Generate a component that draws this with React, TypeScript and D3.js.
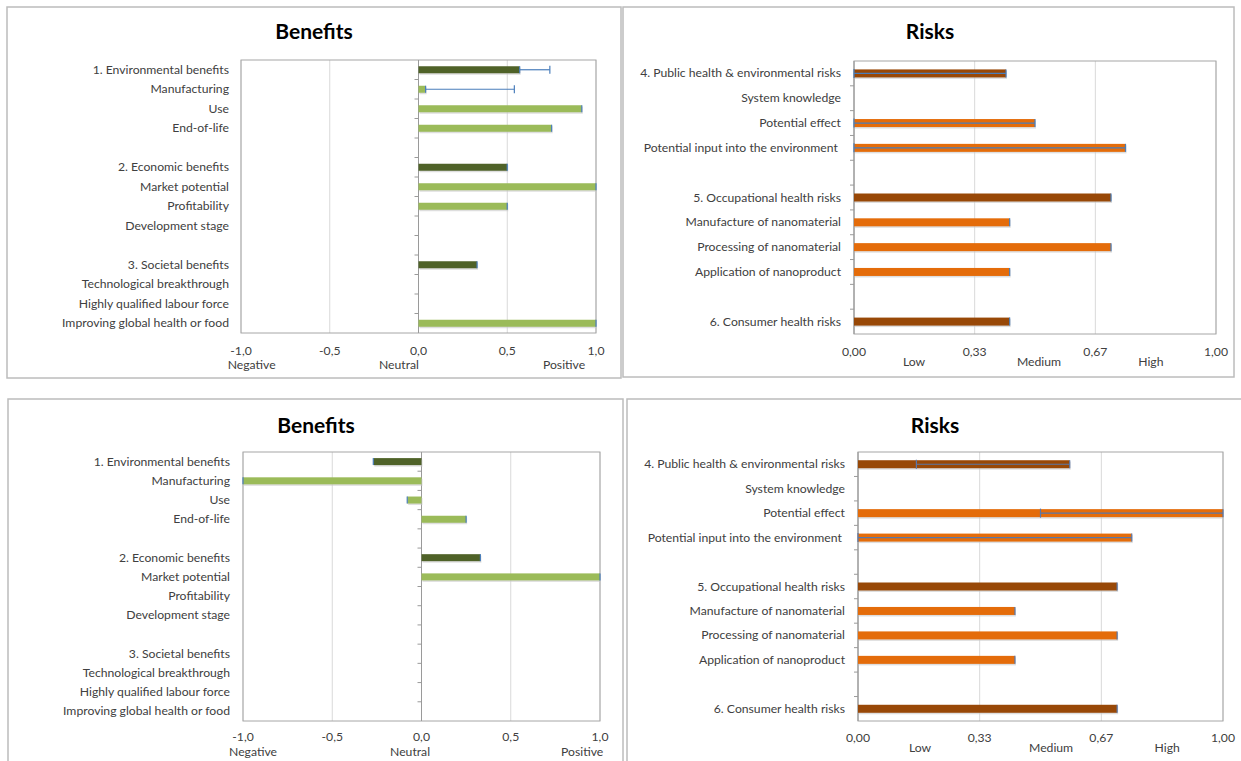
import React from "react";
import * as d3 from "d3";

const benefitCategories = [
  "1. Environmental benefits",
  "Manufacturing",
  "Use",
  "End-of-life",
  "",
  "2. Economic benefits",
  "Market potential",
  "Profitability",
  "Development stage",
  "",
  "3. Societal benefits",
  "Technological breakthrough",
  "Highly qualified labour force",
  "Improving global health or food",
];
const benefitHeaders = [0, 5, 10];

const benefitsTopValues = [0.57, 0.04, 0.92, 0.75, null, 0.5, 1.0, 0.5, null, null, 0.33, null, null, 1.0];
const benefitsTopErrHigh = [0.74, 0.54, 0.92, 0.75, null, 0.5, 1.0, 0.5, null, null, 0.33, null, null, 1.0];

const benefitsBottomValues = [-0.27, -1.0, -0.08, 0.25, null, 0.33, 1.0, null, null, null, 0, null, null, null];

const benefitTicks = [-1, -0.5, 0, 0.5, 1];
const benefitScaleLabels = ["Negative", "Neutral", "Positive"];

const riskCategories = [
  "4. Public health & environmental risks",
  "System knowledge",
  "Potential effect",
  "Potential input into the environment ",
  "",
  "5. Occupational health risks",
  "Manufacture of nanomaterial",
  "Processing of nanomaterial",
  "Application of nanoproduct",
  "",
  "6. Consumer health risks",
];
const riskHeaders = [0, 5, 10];

const risksTopValues = [0.42, null, 0.5, 0.75, null, 0.71, 0.43, 0.71, 0.43, null, 0.43];
const risksTopErrLow = [0, null, 0, 0, null, null, null, null, null, null, null];

const risksBottomValues = [0.58, null, 1.0, 0.75, null, 0.71, 0.43, 0.71, 0.43, null, 0.71];
const risksBottomErrLow = [0.16, null, 0.5, 0, null, null, null, null, null, null, null];

const riskTicks = [0, 1 / 3, 2 / 3, 1];
const riskScaleLabels = ["Low", "Medium", "High"];

const FONT = "Lato, 'Open Sans', sans-serif";
const FS = 12.2;

type PanelProps = {
  box: { x: number; y: number; w: number; h: number };
  plot: { x0: number; x1: number; y0: number; y1: number };
  title: string;
  titleX: number;
  titleY: number;
  categories: string[];
  headers: number[];
  values: (number | null)[];
  errLow?: (number | null)[];
  errHigh?: (number | null)[];
  domain: [number, number];
  ticks: number[];
  tickDigits: number;
  scaleLabels: string[];
  scaleLabelPos: number[];
  tickDy: number;
  scaleDy: number;
  labelX: number;
  barH: number;
  dark: string;
  light: string;
  errColor: string;
};

function Panel(p: PanelProps) {
  const x = d3.scaleLinear().domain(p.domain).range([p.plot.x0, p.plot.x1]);
  const y = d3
    .scaleBand<number>()
    .domain(p.categories.map((_, i) => i))
    .range([p.plot.y0, p.plot.y1]);
  const bw = y.bandwidth();
  const axisX = x(Math.max(p.domain[0], 0));
  const fmt = (v: number) => d3.format(`.${p.tickDigits}f`)(v).replace(".", ",").replace("−", "-");
  return (
    <g>
      <rect x={p.box.x} y={p.box.y} width={p.box.w} height={p.box.h} fill="#fff" stroke="#bcbcbc" strokeWidth={1.5} />
      <text x={p.titleX} y={p.titleY} textAnchor="middle" fontFamily={FONT} fontWeight="bold" fontSize={21} fill="#000">
        {p.title}
      </text>
      {p.ticks.map((t, i) => (
        <line key={"g" + i} x1={x(t)} x2={x(t)} y1={p.plot.y0} y2={p.plot.y1} stroke="#d9d9d9" strokeWidth={1} />
      ))}
      <rect
        x={p.plot.x0}
        y={p.plot.y0}
        width={p.plot.x1 - p.plot.x0}
        height={p.plot.y1 - p.plot.y0}
        fill="none"
        stroke="#a6a6a6"
        strokeWidth={1}
      />
      <line x1={axisX} x2={axisX} y1={p.plot.y0} y2={p.plot.y1} stroke="#9a9a9a" strokeWidth={1} />
      {p.categories.slice(1).map((_, i) => {
        const yy = y(i + 1) as number;
        return <line key={"t" + i} x1={axisX - 4} x2={axisX} y1={yy} y2={yy} stroke="#9a9a9a" strokeWidth={1} />;
      })}
      {p.values.map((v, i) => {
        if (v === null) return null;
        const cy = (y(i) as number) + bw / 2;
        const x0 = x(Math.min(0, v));
        const x1 = x(Math.max(0, v));
        const w = Math.max(x1 - x0, 0.01);
        const col = p.headers.includes(i) ? p.dark : p.light;
        return (
          <g key={"b" + i}>
            <rect x={x0 + 1} y={cy - p.barH / 2 + 1.5} width={w} height={p.barH} fill="#c8c8c8" opacity={0.6} />
            {v !== 0 && <rect x={x0} y={cy - p.barH / 2} width={w} height={p.barH} fill={col} />}
          </g>
        );
      })}
      {p.values.map((v, i) => {
        if (v === null) return null;
        const cy = (y(i) as number) + bw / 2;
        const lo = p.errLow && p.errLow[i] !== null && p.errLow[i] !== undefined ? (p.errLow[i] as number) : v;
        const hi = p.errHigh && p.errHigh[i] !== null && p.errHigh[i] !== undefined ? (p.errHigh[i] as number) : v;
        if (v === 0) return null;
        const cap = p.barH / 2 + 0.5;
        return (
          <g key={"e" + i} stroke={p.errColor} strokeWidth={1.2}>
            {(lo !== v || hi !== v) && <line x1={x(lo)} x2={x(hi)} y1={cy} y2={cy} />}
            {lo !== v && <line x1={x(lo)} x2={x(lo)} y1={cy - cap} y2={cy + cap} />}
            {hi !== v && <line x1={x(hi)} x2={x(hi)} y1={cy - cap} y2={cy + cap} />}
            <line x1={x(v)} x2={x(v)} y1={cy - cap + 0.5} y2={cy + cap - 0.5} />
          </g>
        );
      })}
      {p.categories.map((c, i) => (
        <text
          key={"l" + i}
          x={p.labelX}
          y={(y(i) as number) + bw / 2 + 4}
          textAnchor="end"
          fontFamily={FONT}
          fontSize={FS}
          fill="#404040"
          style={{ whiteSpace: "pre" }}
        >
          {c}
        </text>
      ))}
      {p.ticks.map((t, i) => (
        <text
          key={"v" + i}
          x={x(t)}
          y={p.plot.y1 + p.tickDy}
          textAnchor="middle"
          fontFamily={FONT}
          fontSize={FS}
          fill="#404040"
        >
          {fmt(t)}
        </text>
      ))}
      {p.scaleLabels.map((s, i) => (
        <text
          key={"s" + i}
          x={x(p.scaleLabelPos[i])}
          y={p.plot.y1 + p.scaleDy}
          textAnchor="middle"
          fontFamily={FONT}
          fontSize={FS}
          fill="#404040"
        >
          {s}
        </text>
      ))}
    </g>
  );
}

export default function App() {
  const green = { dark: "#4f6228", light: "#9bbb59" };
  const orange = { dark: "#984807", light: "#e46c0a" };
  return (
    <svg width={1241} height={761} style={{ position: "absolute", left: 0, top: 0, background: "#fff" }}>
      <rect x={0} y={0} width={1241} height={761} fill="#fff" />
      <Panel
        box={{ x: 7, y: 7, w: 614, h: 371 }}
        plot={{ x0: 241, x1: 596, y0: 60, y1: 333 }}
        title="Benefits"
        titleX={314}
        titleY={39}
        categories={benefitCategories}
        headers={benefitHeaders}
        values={benefitsTopValues}
        errHigh={benefitsTopErrHigh}
        domain={[-1, 1]}
        ticks={benefitTicks}
        tickDigits={1}
        scaleLabels={benefitScaleLabels}
        scaleLabelPos={[-0.94, -0.11, 0.82]}
        tickDy={22}
        scaleDy={36}
        labelX={229}
        barH={7}
        dark={green.dark}
        light={green.light}
        errColor="#4a7ebb"
      />
      <Panel
        box={{ x: 623, y: 7, w: 611, h: 370 }}
        plot={{ x0: 854, x1: 1216, y0: 61, y1: 334 }}
        title="Risks"
        titleX={930}
        titleY={39}
        categories={riskCategories}
        headers={riskHeaders}
        values={risksTopValues}
        errLow={risksTopErrLow}
        domain={[0, 1]}
        ticks={riskTicks}
        tickDigits={2}
        scaleLabels={riskScaleLabels}
        scaleLabelPos={[0.166, 0.511, 0.82]}
        tickDy={22}
        scaleDy={32}
        labelX={841}
        barH={8}
        dark={orange.dark}
        light={orange.light}
        errColor="#4a7ebb"
      />
      <Panel
        box={{ x: 8, y: 399, w: 615, h: 380 }}
        plot={{ x0: 243, x1: 600, y0: 452, y1: 721 }}
        title="Benefits"
        titleX={316}
        titleY={433}
        categories={benefitCategories}
        headers={benefitHeaders}
        values={benefitsBottomValues}
        domain={[-1, 1]}
        ticks={benefitTicks}
        tickDigits={1}
        scaleLabels={benefitScaleLabels}
        scaleLabelPos={[-0.944, -0.064, 0.9]}
        tickDy={20}
        scaleDy={35}
        labelX={230}
        barH={7}
        dark={green.dark}
        light={green.light}
        errColor="#4a7ebb"
      />
      <Panel
        box={{ x: 627, y: 399, w: 630, h: 380 }}
        plot={{ x0: 858, x1: 1223, y0: 452, y1: 721 }}
        title="Risks"
        titleX={935}
        titleY={433}
        categories={riskCategories}
        headers={riskHeaders}
        values={risksBottomValues}
        errLow={risksBottomErrLow}
        domain={[0, 1]}
        ticks={riskTicks}
        tickDigits={2}
        scaleLabels={riskScaleLabels}
        scaleLabelPos={[0.17, 0.529, 0.847]}
        tickDy={21}
        scaleDy={31}
        labelX={845}
        barH={8}
        dark={orange.dark}
        light={orange.light}
        errColor="#5a77a8"
      />
    </svg>
  );
}
